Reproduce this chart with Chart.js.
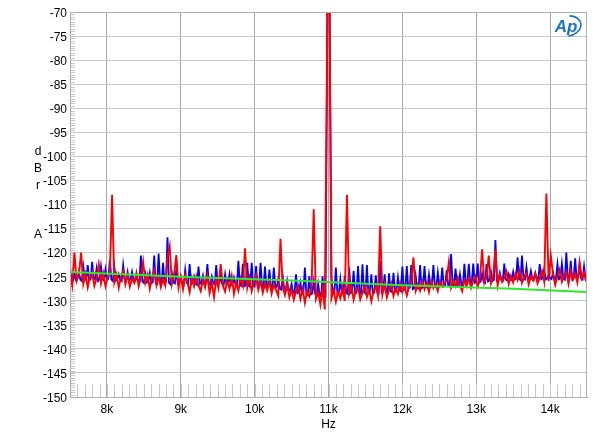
<!DOCTYPE html>
<html>
<head>
<meta charset="utf-8">
<title>FFT 11k</title>
<script src="https://cdn.jsdelivr.net/npm/chart.js@4.4.0/dist/chart.umd.min.js"></script>
<style>
  body { margin:0; background:#fff; }
  #wrap { width:600px; height:441px; }
</style>
</head>
<body>
<div id="wrap"><canvas id="fft" width="600" height="441"></canvas></div>
<script>
// red trace frequencies (Hz)
var freq = [
  7500,7530,7560,7590,7620,7650,7680,7710,7740,7770,
  7800,7830,7860,7890,7920,7950,7980,8010,8040,8070,
  8100,8130,8160,8190,8220,8250,8280,8310,8340,8370,
  8400,8430,8460,8490,8520,8550,8580,8610,8640,8670,
  8700,8730,8760,8790,8820,8850,8880,8910,8940,8970,
  9000,9030,9060,9090,9120,9150,9180,9210,9240,9270,
  9300,9330,9360,9390,9420,9450,9480,9510,9540,9570,
  9600,9630,9660,9690,9720,9750,9780,9810,9840,9870,
  9900,9930,9960,9990,10020,10050,10080,10110,10140,10170,
  10200,10230,10260,10290,10320,10350,10380,10410,10440,10470,
  10500,10530,10560,10590,10620,10650,10680,10710,10740,10770,
  10800,10830,10860,10890,10920,10950,10980,11000,11020,11040,11070,
  11100,11130,11160,11190,11220,11250,11280,11310,11340,11370,
  11400,11430,11460,11490,11520,11550,11580,11610,11640,11670,
  11700,11730,11760,11790,11820,11850,11880,11910,11940,11970,
  12000,12030,12060,12090,12120,12150,12180,12210,12240,12270,
  12300,12330,12360,12390,12420,12450,12480,12510,12540,12570,
  12600,12630,12660,12690,12720,12750,12780,12810,12840,12870,
  12900,12930,12960,12990,13020,13050,13080,13110,13140,13170,
  13200,13230,13260,13290,13320,13350,13380,13410,13440,13470,
  13500,13530,13560,13590,13620,13650,13680,13710,13740,13770,
  13800,13830,13860,13890,13920,13950,13980,14010,14040,14070,
  14100,14130,14160,14190,14220,14250,14280,14310,14340,14370,
  14400,14430,14460,14490
];

// red trace (dBrA)
var redTrace = [
  -124.2,-126.8,-120.0,-125.9,-124.6,-120.0,-126.5,-124.4,-127.2,-125.0,
  -124.1,-126.9,-125.3,-122.4,-126.4,-124.3,-127.0,-125.1,-123.9,-108.0,
  -126.2,-124.5,-127.3,-125.0,-123.8,-126.6,-124.7,-127.1,-125.4,-126.3,
  -124.2,-127.0,-125.1,-121.9,-126.3,-124.6,-127.5,-125.2,-123.6,-126.8,
  -124.9,-127.2,-125.4,-126.8,-121.0,-118.7,-126.5,-124.4,-120.5,-127.3,
  -125.0,-127.6,-124.7,-126.1,-128.2,-125.3,-127.0,-124.9,-126.8,-128.0,
  -125.6,-127.2,-124.8,-128.4,-126.3,-129.2,-125.5,-127.4,-122.4,-126.9,
  -128.1,-125.8,-127.5,-124.9,-128.6,-126.2,-127.9,-125.4,-126.9,-119.1,
  -127.3,-125.2,-128.0,-126.1,-124.6,-127.7,-125.8,-128.3,-126.4,-127.9,
  -125.9,-128.5,-126.6,-127.8,-129.0,-117.1,-127.2,-128.8,-126.5,-129.3,
  -127.6,-129.8,-128.1,-126.9,-129.6,-127.5,-130.4,-128.0,-129.1,-127.2,
  -111.0,-129.6,-128.2,-130.8,-127.5,-131.8,-80.0,-20.0,-80.0,-129.5,-127.8,
  -130.2,-128.1,-129.5,-127.3,-130.0,-108.0,-128.6,-126.9,-129.8,-128.0,
  -127.2,-129.7,-128.3,-126.8,-129.2,-127.6,-130.1,-128.1,-126.9,-129.0,
  -114.5,-128.7,-126.6,-129.3,-127.8,-126.4,-129.0,-127.5,-128.6,-126.3,
  -128.2,-126.9,-128.9,-127.1,-126.2,-121.0,-128.0,-126.7,-127.9,-125.9,
  -127.6,-126.3,-128.2,-125.8,-127.4,-126.5,-128.0,-125.9,-127.1,-126.4,
  -125.6,-121.9,-127.3,-125.9,-127.0,-125.2,-126.8,-128.0,-125.7,-126.9,
  -125.2,-127.3,-125.8,-124.9,-127.0,-125.6,-119.3,-126.3,-125.1,-120.6,
  -126.4,-125.0,-119.3,-126.8,-124.6,-126.1,-125.3,-123.9,-126.5,-124.8,
  -126.2,-124.4,-125.7,-123.6,-126.3,-125.0,-124.2,-126.6,-124.9,-125.8,
  -124.3,-126.4,-125.2,-123.8,-126.0,-107.7,-125.9,-120.6,-124.5,-126.7,
  -124.9,-123.5,-126.1,-125.0,-124.0,-126.5,-123.7,-125.6,-124.4,-126.2,
  -122.0,-125.3,-124.1,-126.0
];

// blue trace frequencies (Hz): 60 Hz hum lines plus the floor between them
var blueFreq = [
  7500,7520,7540, 7560,7580,7600, 7620,7640,7660, 7680,7700,7720, 7740,7760,7780,
  7800,7820,7840, 7860,7880,7900, 7920,7940,7960, 7980,8000,8020, 8040,8060,8080,
  8100,8120,8140, 8160,8180,8200, 8220,8240,8260, 8280,8300,8320, 8340,8360,8380,
  8400,8420,8440, 8460,8480,8500, 8520,8540,8560, 8580,8600,8620, 8640,8660,8680,
  8700,8720,8740, 8760,8780,8800, 8820,8840,8860, 8880,8900,8920, 8940,8960,8980,
  9000,9020,9040, 9060,9080,9100, 9120,9140,9160, 9180,9200,9220, 9240,9260,9280,
  9300,9320,9340, 9360,9380,9400, 9420,9440,9460, 9480,9500,9520, 9540,9560,9580,
  9600,9620,9640, 9660,9680,9700, 9720,9740,9760, 9780,9800,9820, 9840,9860,9880,
  9900,9920,9940, 9960,9980,10000, 10020,10040,10060, 10080,10100,10120, 10140,10160,10180,
  10200,10220,10240, 10260,10280,10300, 10320,10340,10360, 10380,10400,10420, 10440,10460,10480,
  10500,10520,10540, 10560,10580,10600, 10620,10640,10660, 10680,10700,10720, 10740,10760,10780,
  10800,10820,10840, 10860,10880,10900, 10920,10940,10960, 10980,11000,11020, 11040,11060,11080,
  11100,11120,11140, 11160,11180,11200, 11220,11240,11260, 11280,11300,11320, 11340,11360,11380,
  11400,11420,11440, 11460,11480,11500, 11520,11540,11560, 11580,11600,11620, 11640,11660,11680,
  11700,11720,11740, 11760,11780,11800, 11820,11840,11860, 11880,11900,11920, 11940,11960,11980,
  12000,12020,12040, 12060,12080,12100, 12120,12140,12160, 12180,12200,12220, 12240,12260,12280,
  12300,12320,12340, 12360,12380,12400, 12420,12440,12460, 12480,12500,12520, 12540,12560,12580,
  12600,12620,12640, 12660,12680,12700, 12720,12740,12760, 12780,12800,12820, 12840,12860,12880,
  12900,12920,12940, 12960,12980,13000, 13020,13040,13060, 13080,13100,13120, 13140,13160,13180,
  13200,13220,13240, 13260,13280,13300, 13320,13340,13360, 13380,13400,13420, 13440,13460,13480,
  13500,13520,13540, 13560,13580,13600, 13620,13640,13660, 13680,13700,13720, 13740,13760,13780,
  13800,13820,13840, 13860,13880,13900, 13920,13940,13960, 13980,14000,14020, 14040,14060,14080,
  14100,14120,14140, 14160,14180,14200, 14220,14240,14260, 14280,14300,14320, 14340,14360,14380,
  14400,14420,14440, 14460,14480,14500
];

// blue trace (dBrA)
var blueTrace = [
  -123.1,-125.5,-125.8, -124.5,-125.7,-125.4, -124.0,-125.6,-125.9, -122.9,-125.4,-125.7, -122.6,-125.8,-125.5,
  -121.9,-125.6,-125.4, -123.3,-125.9,-125.6, -122.9,-125.5,-125.8, -123.5,-125.7,-125.4, -121.5,-125.6,-125.9,
  -122.9,-125.8,-125.5, -124.5,-125.6,-125.9, -122.6,-125.4,-125.7, -124.0,-125.8,-125.5, -124.0,-125.7,-125.9,
  -125.0,-125.9,-126.1, -120.6,-126.0,-126.3, -124.5,-126.2,-126.0, -124.2,-126.4,-126.1, -120.6,-126.3,-126.5,
  -120.2,-126.2,-126.4, -122.1,-126.5,-126.1, -116.8,-126.3,-126.6, -124.3,-126.2,-126.4, -123.5,-126.5,-126.2,
  -125.0,-126.4,-126.7, -123.6,-126.3,-126.5, -122.4,-126.6,-126.2, -125.0,-126.4,-126.7, -122.9,-126.5,-126.3,
  -124.8,-126.6,-126.3, -122.4,-126.5,-126.8, -125.0,-126.4,-126.6, -122.6,-126.7,-126.4, -124.8,-126.5,-126.8,
  -124.5,-126.6,-126.4, -124.5,-126.8,-126.5, -125.2,-126.6,-126.9, -121.7,-126.7,-126.9, -122.3,-127.0,-126.8,
  -122.1,-126.9,-127.1, -122.1,-126.8,-127.0, -122.8,-127.2,-126.9, -122.1,-127.0,-127.3, -122.9,-127.1,-126.9,
  -123.5,-127.2,-127.4, -123.1,-127.3,-127.1, -125.5,-127.5,-127.7, -124.9,-127.6,-127.9, -125.9,-128.0,-127.8,
  -126.5,-128.2,-128.5, -124.5,-128.4,-128.2, -126.3,-128.6,-128.4, -123.1,-128.5,-128.8, -124.9,-128.7,-128.5,
  -126.0,-128.6,-128.9, -126.5,-128.8,-129.1, -124.9,-129.5,-129.2, -82.0,-20.0,-82.0, -125.2,-128.6,-128.4,
  -123.1,-128.5,-128.3, -125.5,-128.6,-128.4, -124.8,-128.3,-128.6, -123.1,-128.4,-128.2, -123.8,-128.5,-128.3,
  -122.8,-128.4,-128.6, -122.4,-128.2,-128.5, -122.6,-128.4,-128.1, -124.5,-128.5,-128.3, -124.7,-128.2,-128.4,
  -121.7,-128.3,-128.0, -124.5,-128.2,-128.4, -124.3,-128.0,-128.2, -124.2,-128.1,-127.9, -125.2,-127.8,-128.0,
  -122.9,-127.6,-127.8, -122.8,-127.5,-127.3, -122.6,-127.6,-127.4, -124.8,-127.3,-127.5, -122.6,-127.4,-127.2,
  -122.8,-127.1,-127.3, -124.6,-127.2,-127.0, -122.6,-127.0,-127.2, -124.2,-127.1,-126.9, -123.1,-127.0,-126.8,
  -123.7,-126.8,-127.0, -120.3,-126.7,-126.9, -123.3,-126.8,-126.6, -124.5,-126.7,-126.9, -122.3,-126.6,-126.4,
  -122.3,-126.4,-126.2, -122.3,-126.3,-126.1, -122.3,-126.2,-126.0, -124.4,-126.1,-126.3, -122.4,-126.0,-125.8,
  -124.0,-125.9,-125.7, -117.4,-125.8,-125.6, -124.2,-125.7,-125.9, -122.3,-125.6,-125.8, -124.5,-125.5,-125.7,
  -124.0,-125.6,-125.4, -121.0,-125.5,-125.7, -120.6,-125.4,-125.6, -123.0,-125.6,-125.3, -123.8,-125.5,-125.7,
  -124.3,-125.4,-125.6, -122.4,-125.5,-125.3, -123.5,-125.6,-125.4, -124.6,-125.3,-125.5, -124.2,-125.6,-125.4,
  -122.4,-125.5,-125.3, -122.3,-125.4,-125.6, -120.0,-125.3,-125.5, -121.7,-125.6,-125.4, -121.2,-125.5,-125.3,
  -122.6,-125.4,-125.6, -122.9,-125.5,-125.4
];

// green reference line
var greenFreq = [7500, 9000, 10500, 12000, 13500, 14500];
var greenTrace = [-124.0, -125.0, -125.8, -126.8, -127.5, -128.2];

var yTicks = [-150,-145,-140,-135,-130,-125,-120,-115,-110,-105,-100,-95,-90,-85,-80,-75,-70];
var xTicks = [8000,9000,10000,11000,12000,13000,14000];
var yTitle = ['d','B','r','','','A'];

function pts(xs, ys){
  var out = [];
  for (var i = 0; i < xs.length; i++) out.push({x: xs[i], y: ys[i]});
  return out;
}

var FONT = 'Arial, "Liberation Sans", sans-serif';

// minor ticks, frame, y title, logo
var decor = {
  id: 'decor',
  beforeDatasetsDraw: function(chart){
    var c = chart.ctx, a = chart.chartArea;
    var xs = chart.scales.x, ys = chart.scales.y;
    c.save();
    c.strokeStyle = '#c8c8c8';
    c.lineWidth = 1;
    c.beginPath();
    for (var v = -150; v <= -70; v += 0.5) {
      var y = Math.round(ys.getPixelForValue(v)) + 0.5;
      c.moveTo(a.left, y); c.lineTo(a.left + 5, y);
    }
    for (var f = 7600; f < 14500; f += 100) {
      var x = Math.round(xs.getPixelForValue(f)) + 0.5;
      c.moveTo(x, a.bottom); c.lineTo(x, a.bottom - 13);
    }
    c.stroke();
    c.restore();
  },
  afterDraw: function(chart){
    var c = chart.ctx, a = chart.chartArea;
    c.save();
    c.strokeStyle = '#b0b0b0';
    c.lineWidth = 1;
    c.strokeRect(a.left + 0.5, a.top + 0.5, a.right - a.left - 1, a.bottom - a.top);
    c.fillStyle = '#000';
    c.font = '12px ' + FONT;
    c.textAlign = 'center';
    c.textBaseline = 'middle';
    for (var i = 0; i < yTitle.length; i++) {
      if (yTitle[i]) c.fillText(yTitle[i], 38, 152 + i * 16.6);
    }
    // AP logo
    c.fillStyle = '#1f74c0';
    c.strokeStyle = '#1f74c0';
    c.font = 'italic bold 17px ' + FONT;
    c.fillText('Ap', 566, 27);
    c.lineWidth = 1.6;
    c.beginPath();
    c.ellipse(568, 26, 13, 10, -0.2, -1.3, 1.7);
    c.stroke();
    c.restore();
  }
};

var ctx = document.getElementById('fft').getContext('2d');
var fftChart = new Chart(ctx, {
  type: 'line',
  data: {
    datasets: [
      { label: 'green', data: pts(greenFreq, greenTrace), borderColor: '#2ee82e', borderWidth: 2, pointRadius: 0, order: 1 },
      { label: 'red', data: pts(freq, redTrace), borderColor: '#ff0000', borderWidth: 1.9, pointRadius: 0, order: 2 },
      { label: 'blue', data: pts(blueFreq, blueTrace), borderColor: '#0000ff', borderWidth: 1.8, pointRadius: 0, order: 3 }
    ]
  },
  options: {
    responsive: false,
    animation: false,
    events: [],
    layout: { padding: { top: 12, right: 13, left: 0, bottom: 0 } },
    plugins: { legend: { display: false }, tooltip: { enabled: false } },
    scales: {
      x: {
        type: 'linear',
        min: 7500, max: 14500,
        afterFit: function(s){ s.height = 44; },
        afterBuildTicks: function(s){ s.ticks = xTicks.map(function(v){ return {value: v}; }); },
        grid: { color: '#a8a8a8', drawTicks: false },
        border: { color: '#b0b0b0' },
        ticks: {
          padding: 5, color: '#000', font: { family: FONT, size: 12 },
          maxRotation: 0,
          callback: function(v){ return (v / 1000) + 'k'; }
        },
        title: { display: true, text: 'Hz', color: '#000', font: { family: FONT, size: 12 }, padding: { top: 0, bottom: 9 } }
      },
      y: {
        min: -150, max: -70,
        afterFit: function(s){ s.width = 70; },
        afterBuildTicks: function(s){ s.ticks = yTicks.map(function(v){ return {value: v}; }); },
        grid: { color: '#c8c8c8', drawTicks: false },
        border: { color: '#b0b0b0' },
        ticks: { padding: 3, labelOffset: 1.5, color: '#000', font: { family: FONT, size: 12 } }
      }
    }
  },
  plugins: [decor]
});
</script>
</body>
</html>
